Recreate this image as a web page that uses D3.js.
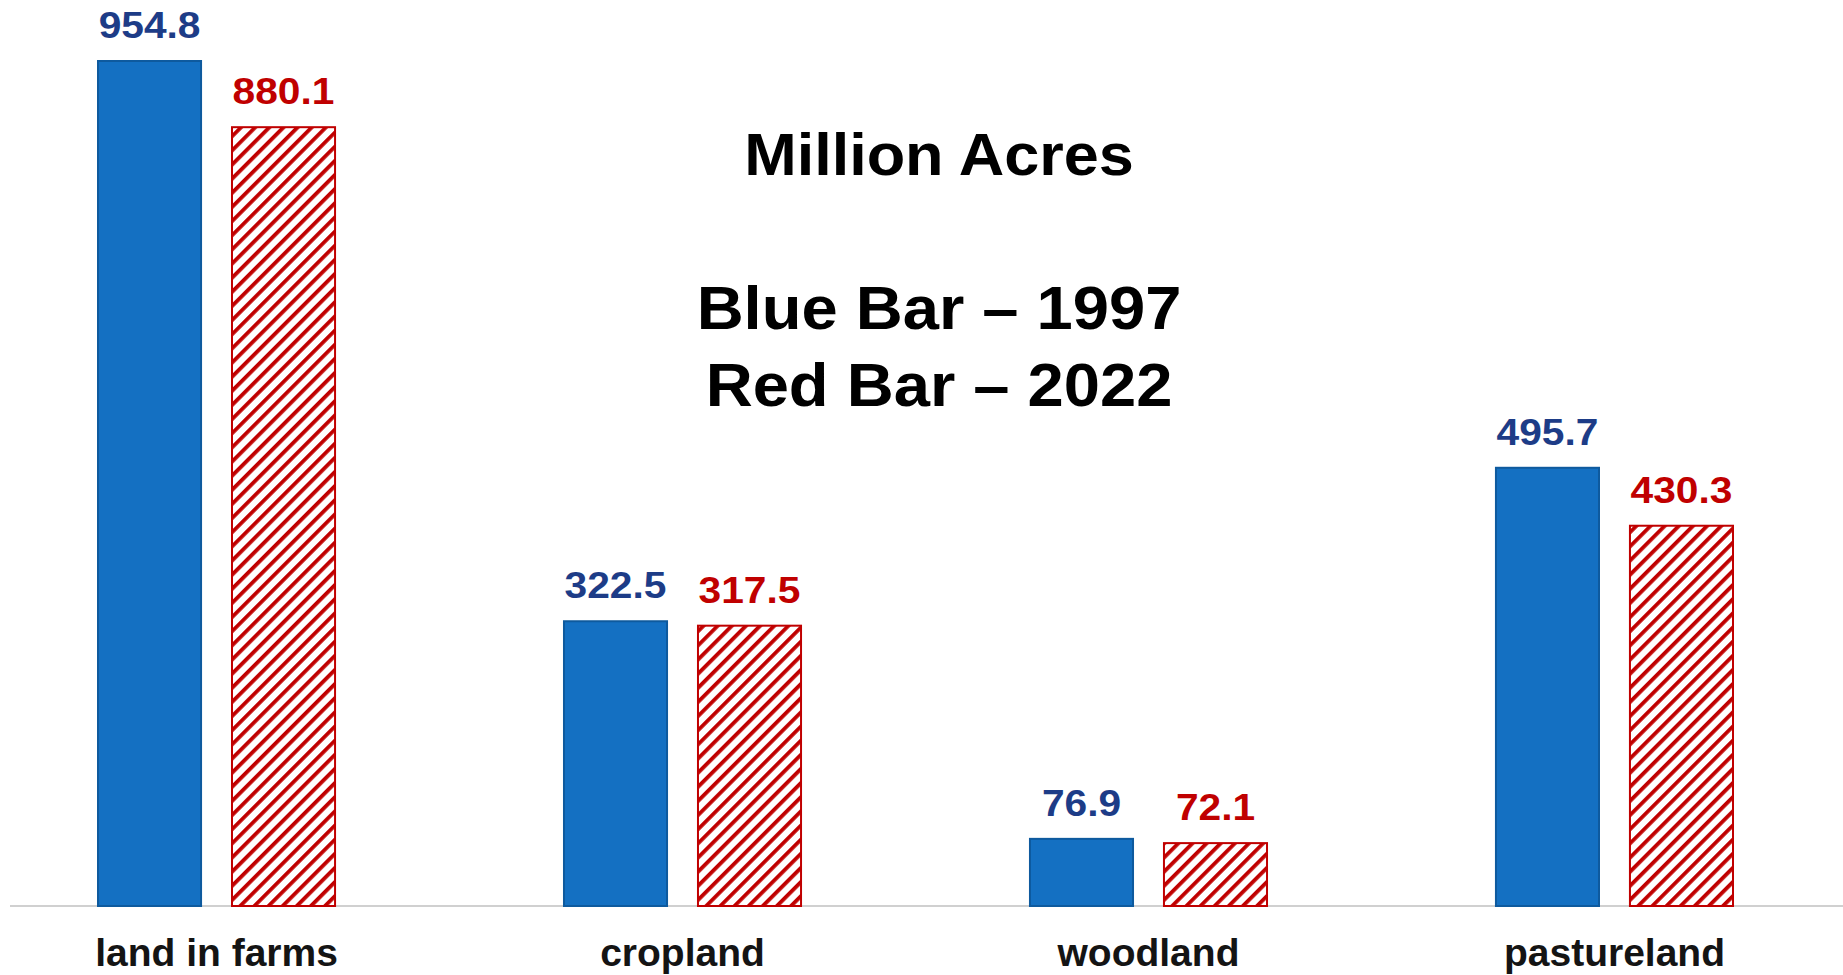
<!DOCTYPE html>
<html>
<head>
<meta charset="utf-8">
<script src="https://cdn.jsdelivr.net/npm/d3@7"></script>
<style>
  body { margin: 0; background: #fff; }
  svg { display: block; font-family: "Liberation Sans", Arial, sans-serif; font-weight: bold; }
</style>
</head>
<body>
<svg id="chart"></svg>
<script>
// data
const categories = ['land in farms', 'cropland', 'woodland', 'pastureland'];
const years = ['1997', '2022'];
const values1997 = [954.8, 322.5, 76.9, 495.7];
const values2022 = [880.1, 317.5, 72.1, 430.3];
const titleLines = ['Million Acres', 'Blue Bar \u2013 1997', 'Red Bar \u2013 2022'];

const width = 1843, height = 975;
const baseline = 906;

const svg = d3.select('#chart')
    .attr('width', width)
    .attr('height', height);

// hatch pattern for the 2022 bars
const defs = svg.append('defs');
const hatch = defs.append('pattern')
    .attr('id', 'hatch')
    .attr('patternUnits', 'userSpaceOnUse')
    .attr('width', 10)
    .attr('height', 10)
    .attr('patternTransform', 'rotate(45)');
hatch.append('rect')
    .attr('width', 10).attr('height', 10)
    .attr('fill', '#fff');
hatch.append('rect')
    .attr('width', 3.8).attr('height', 10)
    .attr('fill', '#c00000');

// scales
const x0 = d3.scaleBand()
    .domain(categories)
    .range([97, 1734])
    .paddingInner(0.487)
    .paddingOuter(0);

const x1 = d3.scaleBand()
    .domain(years)
    .range([0, x0.bandwidth()])
    .paddingInner(0.216);

const y = d3.scaleLinear()
    .domain([0, 954.8])
    .range([baseline, 60]);

// baseline
svg.append('line')
    .attr('x1', 10).attr('x2', width)
    .attr('y1', baseline).attr('y2', baseline)
    .attr('stroke', '#d0d0d0')
    .attr('stroke-width', 2);

const rows = categories.map((c, i) => ({
    category: c,
    bars: [
        { year: '1997', value: values1997[i] },
        { year: '2022', value: values2022[i] }
    ]
}));

const groups = svg.selectAll('.group')
    .data(rows)
  .join('g')
    .attr('class', 'group')
    .attr('transform', d => `translate(${x0(d.category)},0)`);

groups.selectAll('rect')
    .data(d => d.bars)
  .join('rect')
    .attr('x', d => x1(d.year) + 1)
    .attr('y', d => y(d.value) + 1)
    .attr('width', x1.bandwidth() - 2)
    .attr('height', d => baseline - y(d.value) - 1)
    .attr('fill', d => d.year === '1997' ? '#1470c2' : 'url(#hatch)')
    .attr('stroke', d => d.year === '1997' ? '#0e5a9e' : '#c00000')
    .attr('stroke-width', 2);

// value labels
groups.selectAll('.value')
    .data(d => d.bars)
  .join('text')
    .attr('class', 'value')
    .attr('transform', d => `translate(${x1(d.year) + x1.bandwidth() / 2},${y(d.value) - 22}) scale(1.1,1)`)
    .attr('text-anchor', 'middle')
    .attr('font-size', 37)
    .attr('fill', d => d.year === '1997' ? '#1d3c87' : '#c00000')
    .text(d => d.value.toFixed(1));

// category labels
svg.selectAll('.cat')
    .data(categories)
  .join('text')
    .attr('class', 'cat')
    .attr('x', d => x0(d) + x0.bandwidth() / 2)
    .attr('y', 966)
    .attr('text-anchor', 'middle')
    .attr('font-size', 39)
    .attr('fill', '#141414')
    .text(d => d);

// title block
const titleY = [175, 329, 406];
const titleSize = [60, 62, 62];
svg.selectAll('.title')
    .data(titleLines)
  .join('text')
    .attr('class', 'title')
    .attr('transform', (d, i) => `translate(939,${titleY[i]}) scale(1.05,1)`)
    .attr('text-anchor', 'middle')
    .attr('font-size', (d, i) => titleSize[i])
    .attr('fill', '#000')
    .text(d => d);
</script>
</body>
</html>
